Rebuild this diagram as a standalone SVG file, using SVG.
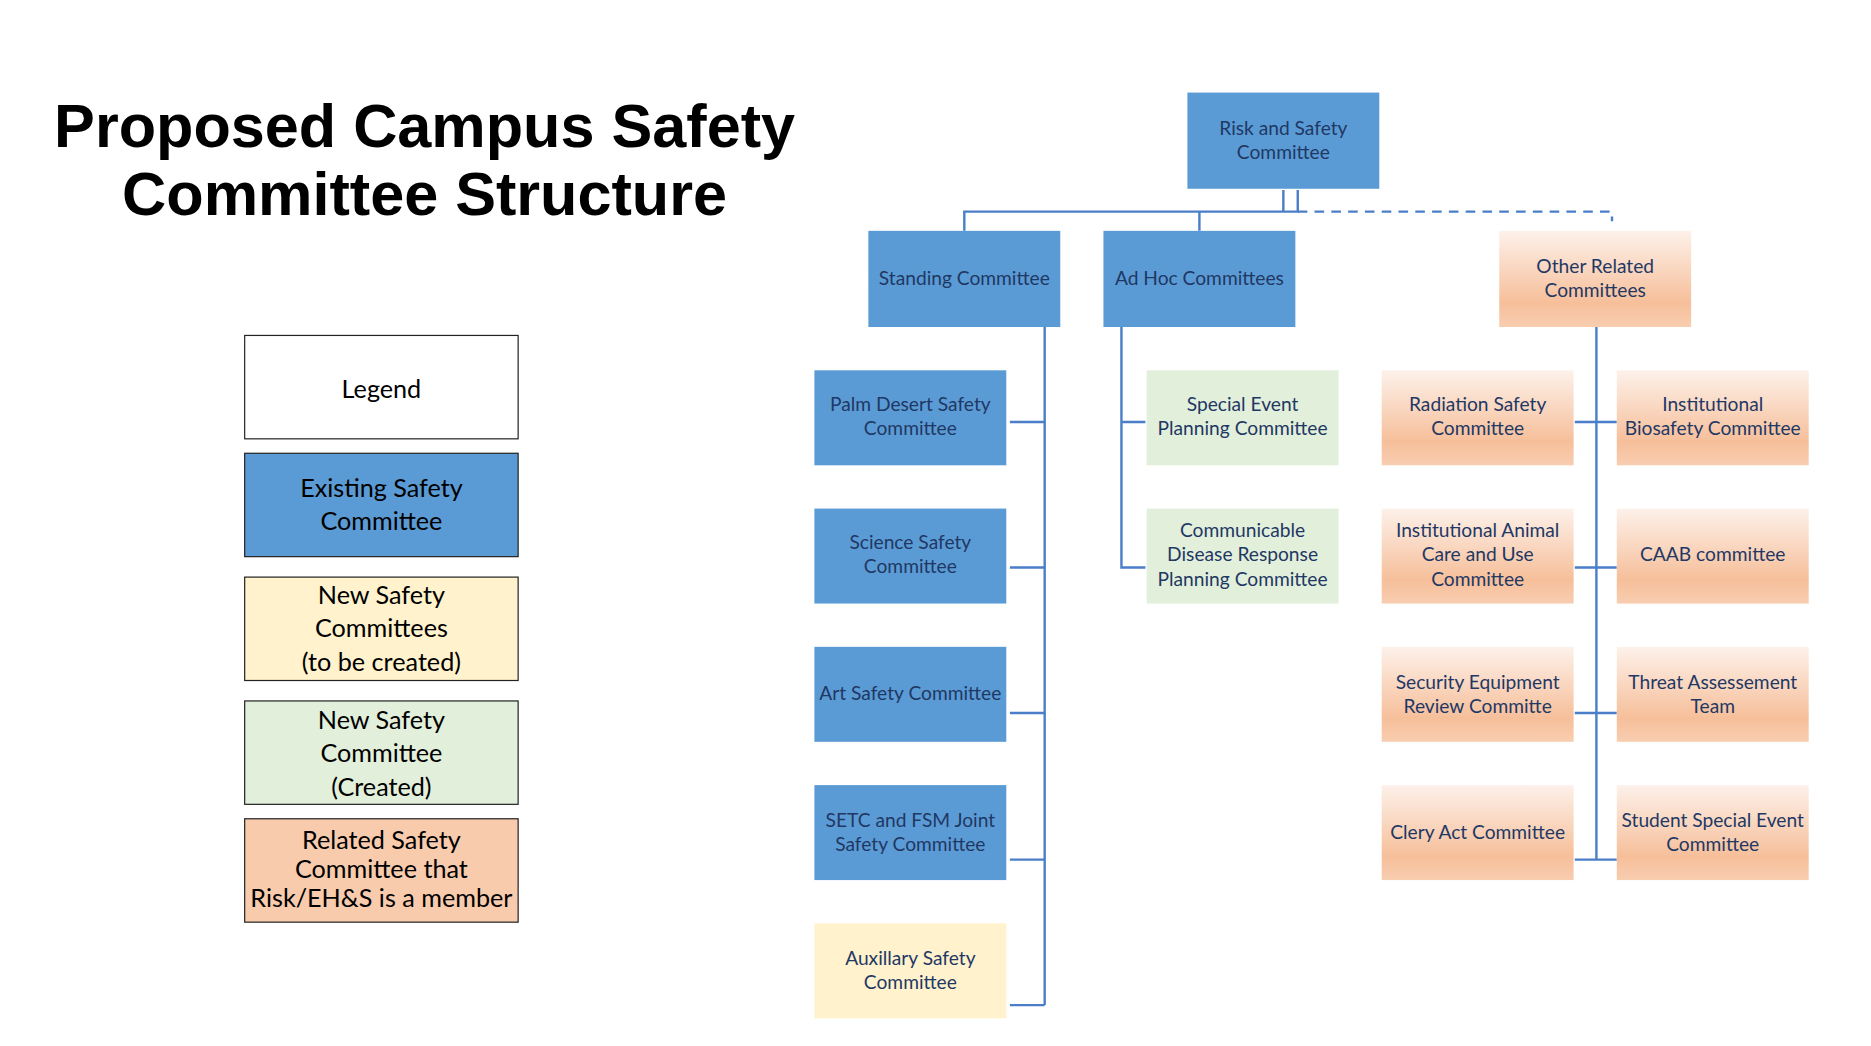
<svg xmlns="http://www.w3.org/2000/svg" width="1871" height="1046" viewBox="0 0 1871 1046">
<defs>
<linearGradient id="og" x1="0" y1="0" x2="0" y2="1">
<stop offset="0" stop-color="#FDF1EA"/><stop offset="0.75" stop-color="#F6BF9A"/><stop offset="1" stop-color="#F8CDB0"/>
</linearGradient>
<style>
.t{font-family:Lato,"Open Sans",sans-serif;font-size:16px;fill:#1F3864;text-anchor:middle}
.lg{font-family:Lato,"Open Sans",sans-serif;font-size:21px;fill:#000;text-anchor:middle}
.b{fill:#5B9BD5}
.y{fill:#FFF2CC}
.g{fill:#E2EFDA}
.o{fill:url(#og)}
.c{fill:none;stroke:#4A7EC8;stroke-width:2}
.ls{stroke:#222;stroke-width:1}
</style>
</defs>
<rect width="1871" height="1046" fill="#fff"/>
<g transform="scale(1.1994,1.2023)">
<g id="title" font-family="'Liberation Sans',Arial,sans-serif" font-weight="bold" font-size="51" text-anchor="middle">
<text x="354" y="122">Proposed Campus Safety</text>
<text x="354" y="179">Committee Structure</text>
</g>
<g id="legend">
<rect x="204" y="279" width="228" height="86" fill="#fff" class="ls"/>
<text class="lg" x="318" y="331" font-size="27">Legend</text>
<rect x="204" y="377" width="228" height="86" class="b ls"/>
<text class="lg" x="318" y="413">Existing Safety</text><text class="lg" x="318" y="441">Committee</text>
<rect x="204" y="480" width="228" height="86" class="y ls"/>
<text class="lg" x="318" y="502">New Safety</text><text class="lg" x="318" y="530">Committees</text><text class="lg" x="318" y="558">(to be created)</text>
<rect x="204" y="583" width="228" height="86" class="g ls"/>
<text class="lg" x="318" y="606">New Safety</text><text class="lg" x="318" y="634">Committee</text><text class="lg" x="318" y="662">(Created)</text>
<rect x="204" y="681" width="228" height="86" fill="#F8CBAD" class="ls"/>
<text class="lg" x="318" y="706" font-size="18">Related Safety</text><text class="lg" x="318" y="730" font-size="18">Committee that</text><text class="lg" x="318" y="754" font-size="18">Risk/EH&amp;S is a member</text>
</g>
<g id="connectors">
<path class="c" d="M1070 158V176M1082 158V176H1075M804 192V176H1075M1000 176V192"/>
<path class="c" stroke-dasharray="8,6" d="M1082 176H1344V184"/>
<path class="c" d="M871 272V836M842 351H871M842 472H871M842 593H871M842 715H871M842 836H871"/>
<path class="c" d="M935 272V472H955M935 351H955"/>
<path class="c" d="M1331 272V715M1313 351H1348M1313 472H1348M1313 593H1348M1313 715H1348"/>
</g>
<g id="risk"><rect class="b" x="990" y="77" width="160" height="80"/><text class="t" x="1070" y="112">Risk and Safety</text><text class="t" x="1070" y="132">Committee</text></g>
<g id="standing"><rect class="b" x="724" y="192" width="160" height="80"/><text class="t" x="804" y="237">Standing Committee</text></g>
<g id="adhoc"><rect class="b" x="920" y="192" width="160" height="80"/><text class="t" x="1000" y="237">Ad Hoc Committees</text></g>
<g id="other"><rect class="o" x="1250" y="192" width="160" height="80"/><text class="t" x="1330" y="227">Other Related</text><text class="t" x="1330" y="247">Committees</text></g>
<g id="palm"><rect class="b" x="679" y="308" width="160" height="79"/><text class="t" x="759" y="342">Palm Desert Safety</text><text class="t" x="759" y="362">Committee</text></g>
<g id="science"><rect class="b" x="679" y="423" width="160" height="79"/><text class="t" x="759" y="457">Science Safety</text><text class="t" x="759" y="477">Committee</text></g>
<g id="art"><rect class="b" x="679" y="538" width="160" height="79"/><text class="t" x="759" y="582">Art Safety Committee</text></g>
<g id="setc"><rect class="b" x="679" y="653" width="160" height="79"/><text class="t" x="759" y="688">SETC and FSM Joint</text><text class="t" x="759" y="708">Safety Committee</text></g>
<g id="aux"><rect class="y" x="679" y="768" width="160" height="79"/><text class="t" x="759" y="803">Auxillary Safety</text><text class="t" x="759" y="823">Committee</text></g>
<g id="special"><rect class="g" x="956" y="308" width="160" height="79"/><text class="t" x="1036" y="342">Special Event</text><text class="t" x="1036" y="362">Planning Committee</text></g>
<g id="communicable"><rect class="g" x="956" y="423" width="160" height="79"/><text class="t" x="1036" y="447">Communicable</text><text class="t" x="1036" y="467">Disease Response</text><text class="t" x="1036" y="487">Planning Committee</text></g>
<g id="radiation"><rect class="o" x="1152" y="308" width="160" height="79"/><text class="t" x="1232" y="342">Radiation Safety</text><text class="t" x="1232" y="362">Committee</text></g>
<g id="iacuc"><rect class="o" x="1152" y="423" width="160" height="79"/><text class="t" x="1232" y="447">Institutional Animal</text><text class="t" x="1232" y="467">Care and Use</text><text class="t" x="1232" y="487">Committee</text></g>
<g id="security"><rect class="o" x="1152" y="538" width="160" height="79"/><text class="t" x="1232" y="573">Security Equipment</text><text class="t" x="1232" y="593">Review Committe</text></g>
<g id="clery"><rect class="o" x="1152" y="653" width="160" height="79"/><text class="t" x="1232" y="698">Clery Act Committee</text></g>
<g id="biosafety"><rect class="o" x="1348" y="308" width="160" height="79"/><text class="t" x="1428" y="342">Institutional</text><text class="t" x="1428" y="362">Biosafety Committee</text></g>
<g id="caab"><rect class="o" x="1348" y="423" width="160" height="79"/><text class="t" x="1428" y="467">CAAB committee</text></g>
<g id="threat"><rect class="o" x="1348" y="538" width="160" height="79"/><text class="t" x="1428" y="573">Threat Assessement</text><text class="t" x="1428" y="593">Team</text></g>
<g id="student"><rect class="o" x="1348" y="653" width="160" height="79"/><text class="t" x="1428" y="688">Student Special Event</text><text class="t" x="1428" y="708">Committee</text></g>
</g>
</svg>
